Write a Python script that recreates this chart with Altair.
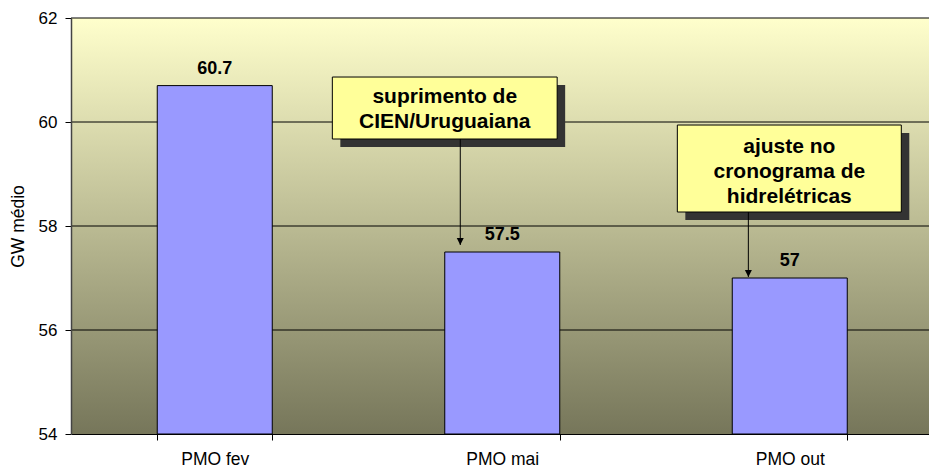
import altair as alt
import pandas as pd

# Bar data
categories = ["PMO fev", "PMO mai", "PMO out"]
values = [60.7, 57.5, 57.0]

# Y axis
y_ticks = [54, 56, 58, 60, 62]
grid_lines = [56, 58, 60, 62]

# Callout boxes (x in band units: category i spans [i, i+1]; y in GW médio)
note_text = ["suprimento de\nCIEN/Uruguaiana", "ajuste no\ncronograma de\nhidrelétricas"]
note_x0 = [0.909, 2.109]
note_x1 = [1.691, 2.888]
note_top = [60.865, 59.942]
note_bottom = [59.673, 58.269]
note_first_line = [60.481, 59.52]
arrow_x = [1.354, 2.356]
arrow_tip = [57.635, 57.02]

W, H = 858, 416
RANGE = [0, 862.5]
FONT = "Liberation Sans"

bars_df = pd.DataFrame({"cat": categories, "value": values})
grid_df = pd.DataFrame({"v": grid_lines})
notes_df = pd.DataFrame({
    "text": note_text,
    "x0": note_x0, "x1": note_x1,
    "top": note_top, "bottom": note_bottom,
    "xc": [(a + b) / 2 for a, b in zip(note_x0, note_x1)],
    "yt": note_first_line,
    "ax": arrow_x, "tip": arrow_tip,
})

y_scale = alt.Scale(domain=[54, 62], nice=False, zero=False)
x_band = alt.Scale(domain=categories, paddingInner=0.6, paddingOuter=0.3, range=RANGE)
x_num = alt.Scale(domain=[0, 3], range=RANGE, nice=False, zero=False)

gradient = alt.LinearGradient(
    gradient="linear",
    stops=[alt.GradientStop(color="#FFFFCC", offset=0),
           alt.GradientStop(color="#76765A", offset=1)],
    x1=0, x2=0, y1=0, y2=1,
)

background = alt.Chart(pd.DataFrame({"a": [0]})).mark_rect(color=gradient).encode(
    x=alt.value(0), x2=alt.value("width"), y=alt.value(0), y2=alt.value("height")
)

grid = alt.Chart(grid_df).mark_rule(color="#000000", strokeWidth=1).encode(
    y=alt.Y("v:Q", scale=y_scale)
)

bars = alt.Chart(bars_df).mark_bar(color="#9999FF", stroke="#000000", strokeWidth=1).encode(
    x=alt.X("cat:N", sort=categories, scale=x_band,
            axis=alt.Axis(title=None, labelAngle=0, labelFontSize=17.5, labelFont=FONT,
                          labelColor="#000000", domainColor="#000000", tickColor="#000000",
                          tickSize=6, labelPadding=10, tickBand="extent", grid=False,
                          zindex=1)),
    y=alt.Y("value:Q", scale=y_scale,
            axis=alt.Axis(values=y_ticks, title="GW médio", titleFontSize=17.5,
                          titleFont=FONT, titleFontWeight="normal", titleColor="#000000",
                          titlePadding=11, labelFontSize=17, labelFont=FONT,
                          labelColor="#000000", domainColor="#444444", domainWidth=1.5,
                          tickColor="#000000", tickSize=6, labelPadding=8, grid=False,
                          zindex=1)),
    y2=alt.datum(54),
)

bar_labels = alt.Chart(bars_df).mark_text(
    font=FONT, fontSize=18, fontWeight="bold", color="#000000",
    baseline="alphabetic", dy=-12
).encode(
    x=alt.X("cat:N", sort=categories, scale=x_band, axis=None),
    y=alt.Y("value:Q", scale=y_scale),
    text=alt.Text("value:Q", format=".3~g"),
)

notes = alt.Chart(notes_df)
shadow = notes.mark_rect(color="#333333", xOffset=8, yOffset=8, x2Offset=8, y2Offset=8).encode(
    x=alt.X("x0:Q", scale=x_num, axis=None), x2="x1:Q",
    y=alt.Y("top:Q", scale=y_scale), y2="bottom:Q",
)
box = notes.mark_rect(color="#FFFF99", stroke="#000000", strokeWidth=1).encode(
    x=alt.X("x0:Q", scale=x_num, axis=None), x2="x1:Q",
    y=alt.Y("top:Q", scale=y_scale), y2="bottom:Q",
)
box_text = notes.mark_text(
    font=FONT, fontSize=21, fontWeight="bold", color="#000000",
    lineBreak="\n", lineHeight=25, baseline="middle", align="center"
).encode(
    x=alt.X("xc:Q", scale=x_num, axis=None),
    y=alt.Y("yt:Q", scale=y_scale),
    text="text:N",
)
arrow_line = notes.mark_rule(color="#000000", strokeWidth=1).encode(
    x=alt.X("ax:Q", scale=x_num, axis=None),
    y=alt.Y("bottom:Q", scale=y_scale), y2="tip:Q",
)
arrow_head = notes.mark_point(
    shape="M-1,-2L1,-2L0,0Z", filled=True, color="#000000", opacity=1, size=49
).encode(
    x=alt.X("ax:Q", scale=x_num, axis=None),
    y=alt.Y("tip:Q", scale=y_scale),
)

chart = alt.layer(
    background, grid, bars, bar_labels, shadow, box, arrow_line, arrow_head, box_text
).resolve_scale(x="independent").properties(
    width=W, height=H,
    autosize=alt.AutoSizeParams(type="none"),
    padding={"left": 71, "top": 18, "right": 0, "bottom": 37},
    background="#FFFFFF",
).configure_view(stroke=None)

chart.save("out.html", embed_options={"renderer": "svg", "actions": False})
